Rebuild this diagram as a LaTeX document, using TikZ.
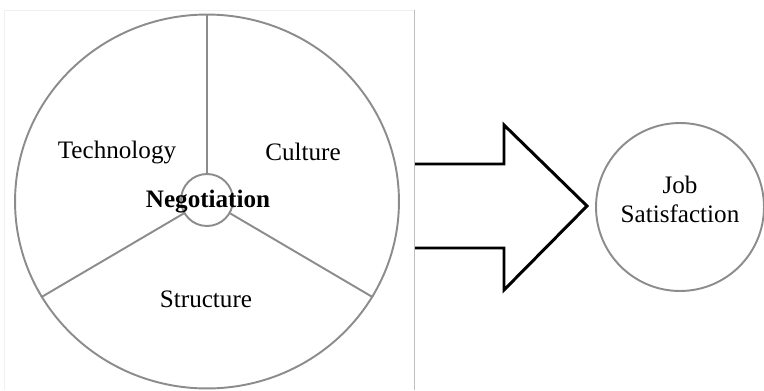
\documentclass[tikz,border=0pt]{standalone}
\usepackage{fontspec}
\setmainfont{Liberation Serif}
\usepackage{tikz}
\usetikzlibrary{shapes.geometric}

\tikzset{
    rim/.style={draw=black!45, line width=1.1pt, inner sep=0pt},
    spoke/.style={black!45, line width=1.1pt}
}

\begin{document}
\begin{tikzpicture}[x=0.02cm, y=0.02cm, font=\fontsize{14.3}{16.5}\selectfont]
        \useasboundingbox (0,0) rectangle (764,390);
        % frame
        \draw[black!6] (4,0) -- (4,380) -- (414,380);
        \draw[black!25] (414,380) -- (414,0);
        % wheel
        \node[rim, ellipse, minimum width=7.68cm, minimum height=7.48cm] (wheel) at (207,188.5) {};
        \node[rim, circle, minimum size=1.04cm] (hub) at (207,190) {};
        \draw[spoke] (hub.90) -- (wheel.90);
        \draw[spoke] (hub.210) -- (wheel.210);
        \draw[spoke] (hub.330) -- (wheel.330);
        \node (tech) at (117,238) {Technology};
        \node (cult) at (303,238) {Culture};
        \node (stru) at (206,91) {Structure};
        \node[font=\fontsize{14.3}{16.5}\selectfont\bfseries] (nego) at (208,188) {Negotiation};
        % arrow
        \coordinate (A) at (415,226);
        \coordinate (B) at (504,226);
        \coordinate (C) at (504,265);
        \coordinate (D) at (587,184);
        \coordinate (E) at (504,100);
        \coordinate (F) at (504,142);
        \coordinate (G) at (415,142);
        \draw[line width=1.7pt, line join=miter] (A) -- (B) -- (C) -- (D) -- (E) -- (F) -- (G);
        % outcome
        \node[rim, circle, minimum size=3.36cm] (job) at (680,183) {};
        \node[align=center] (jobtext) at (680,190.5) {Job\\Satisfaction};
    \end{tikzpicture}
\end{document}
